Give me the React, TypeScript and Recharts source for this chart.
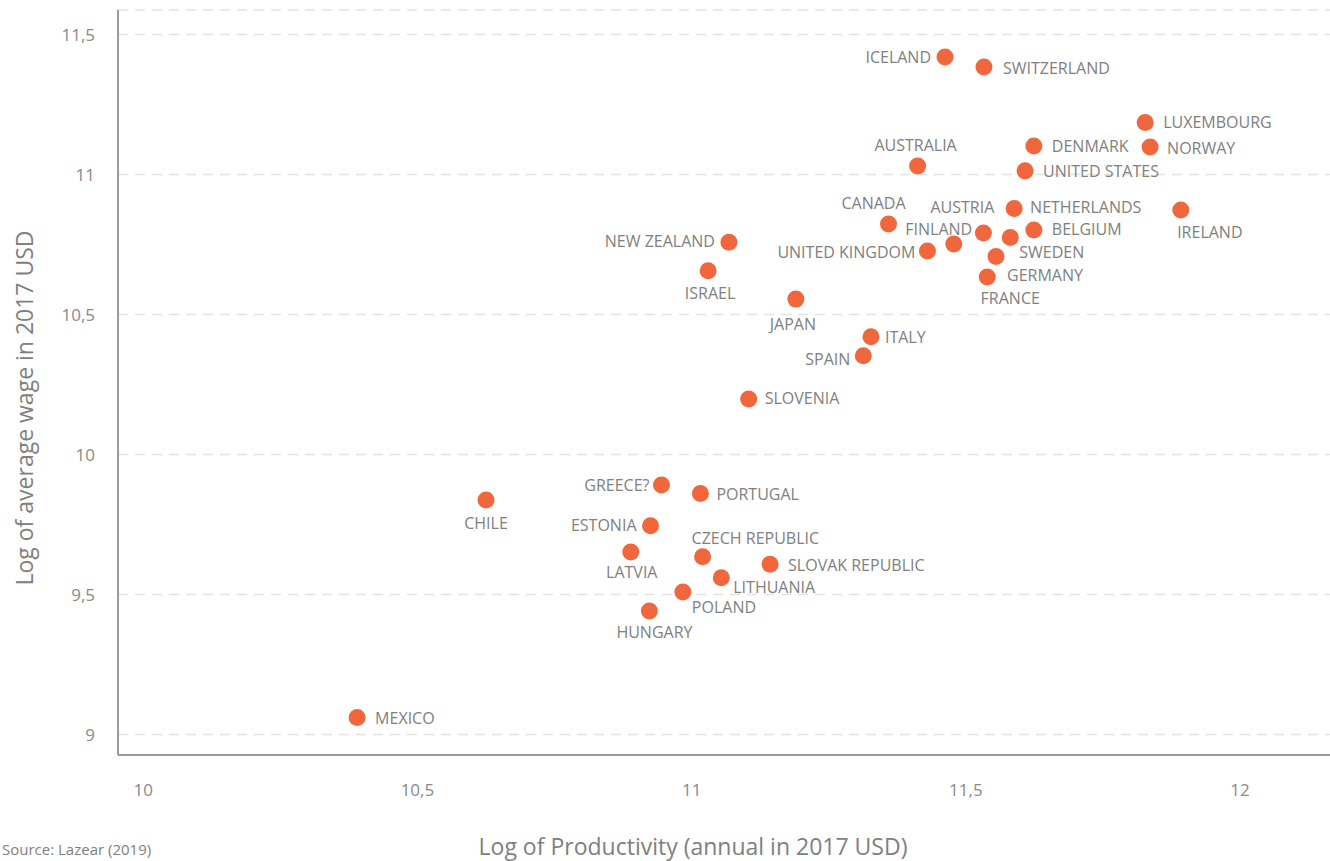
import React from "react";
import {
  ScatterChart,
  Scatter,
  XAxis,
  YAxis,
  CartesianGrid,
  Label,
} from "recharts";

// OECD countries: log productivity vs log average wage (2017 USD)
const countries = [
  "ICELAND", "SWITZERLAND", "LUXEMBOURG", "NORWAY", "DENMARK", "UNITED STATES",
  "AUSTRALIA", "CANADA", "AUSTRIA", "FINLAND", "UNITED KINGDOM", "NETHERLANDS",
  "BELGIUM", "SWEDEN", "GERMANY", "FRANCE", "IRELAND", "NEW ZEALAND", "ISRAEL",
  "JAPAN", "ITALY", "SPAIN", "SLOVENIA", "GREECE?", "PORTUGAL", "CHILE",
  "ESTONIA", "LATVIA", "CZECH REPUBLIC", "SLOVAK REPUBLIC", "LITHUANIA",
  "POLAND", "HUNGARY", "MEXICO",
];

const productivity = [
  11.462, 11.533, 11.827, 11.836, 11.624, 11.608,
  11.412, 11.359, 11.532, 11.478, 11.43, 11.588,
  11.624, 11.581, 11.555, 11.539, 11.892, 11.068, 11.03,
  11.19, 11.327, 11.313, 11.104, 10.945, 11.016, 10.625,
  10.925, 10.889, 11.02, 11.143, 11.054,
  10.984, 10.923, 10.39,
];

const wage = [
  11.42, 11.384, 11.186, 11.098, 11.102, 11.013,
  11.03, 10.823, 10.791, 10.752, 10.727, 10.879,
  10.802, 10.775, 10.707, 10.634, 10.873, 10.758, 10.656,
  10.555, 10.421, 10.353, 10.198, 9.891, 9.861, 9.838,
  9.746, 9.652, 9.635, 9.608, 9.56,
  9.509, 9.441, 9.061,
];

const xTicks = [10, 10.5, 11, 11.5, 12];
const yTicks = [9, 9.5, 10, 10.5, 11, 11.5];

// where each country name sits relative to its dot: dx, dy, anchor
const labelPos: Record<string, [number, number, string]> = {
  "ICELAND": [-14, 0, "end"],
  "SWITZERLAND": [19, 1, "start"],
  "LUXEMBOURG": [18, 0, "start"],
  "NORWAY": [17, 1, "start"],
  "DENMARK": [18, 0, "start"],
  "UNITED STATES": [18, 0, "start"],
  "AUSTRALIA": [-2, -21, "middle"],
  "CANADA": [-15, -21, "middle"],
  "AUSTRIA": [-21, -26, "middle"],
  "FINLAND": [-15, -15, "middle"],
  "UNITED KINGDOM": [-12, 1, "end"],
  "NETHERLANDS": [16, -1, "start"],
  "BELGIUM": [18, -1, "start"],
  "SWEDEN": [9, 14, "start"],
  "GERMANY": [11, 18, "start"],
  "FRANCE": [23, 21, "middle"],
  "IRELAND": [29, 22, "middle"],
  "NEW ZEALAND": [-14, -1, "end"],
  "ISRAEL": [2, 22, "middle"],
  "JAPAN": [-3, 25, "middle"],
  "ITALY": [14, 0, "start"],
  "SPAIN": [-13, 3, "end"],
  "SLOVENIA": [16, -1, "start"],
  "GREECE?": [-12, 0, "end"],
  "PORTUGAL": [16, 1, "start"],
  "CHILE": [0, 23, "middle"],
  "ESTONIA": [-14, -1, "end"],
  "LATVIA": [1, 20, "middle"],
  "CZECH REPUBLIC": [-11, -19, "start"],
  "SLOVAK REPUBLIC": [18, 1, "start"],
  "LITHUANIA": [12, 9, "start"],
  "POLAND": [9, 15, "start"],
  "HUNGARY": [5, 21, "middle"],
  "MEXICO": [18, 1, "start"],
};

const data = countries.map((name, i) => ({
  name,
  x: productivity[i],
  y: wage[i],
}));

const FONT = "'Open Sans', sans-serif";
const DOT = "#f0673d";
const TEXT = "#808080";

const fmt = (v: number) => String(v).replace(".", ",");

const CountryDot = (props: any) => {
  const { cx, cy, payload } = props;
  const [dx, dy, anchor] = labelPos[payload.name] || [14, 0, "start"];
  return (
    <g>
      <circle cx={cx} cy={cy} r={8.5} fill={DOT} />
      <text
        x={cx + dx}
        y={cy + dy}
        textAnchor={anchor as any}
        dominantBaseline="central"
        fontFamily={FONT}
        fontSize={16}
        fill={TEXT}
      >
        {payload.name}
      </text>
    </g>
  );
};

export default function App() {
  return (
    <div
      style={{
        position: "absolute",
        left: 0,
        top: 0,
        width: 1330,
        height: 861,
        overflow: "hidden",
        background: "#fff",
      }}
    >
      <ScatterChart
        width={1330}
        height={861}
        margin={{ top: 10, right: 0, bottom: 0, left: 0 }}
      >
        <CartesianGrid
          vertical={false}
          stroke="#e3e3e3"
          strokeWidth={1.5}
          strokeDasharray="10 7"
        />
        <XAxis
          type="number"
          dataKey="x"
          domain={[9.954, 12.164]}
          ticks={xTicks}
          allowDataOverflow
          height={106}
          tickFormatter={fmt}
          tickLine={false}
          tickSize={0}
          tickMargin={29}
          axisLine={{ stroke: "#9b9b9b", strokeWidth: 2 }}
          tick={{ fill: "#8a8a8a", fontSize: 17, fontFamily: FONT }}
        >
          <Label
            content={() => (
              <text
                x={693}
                y={846}
                textAnchor="middle"
                dominantBaseline="central"
                fontFamily={FONT}
                fontSize={23}
                fill={TEXT}
              >
                Log of Productivity (annual in 2017 USD)
              </text>
            )}
          />
        </XAxis>
        <YAxis
          type="number"
          dataKey="y"
          domain={[8.927, 11.5875]}
          ticks={yTicks}
          allowDataOverflow
          width={118}
          tickFormatter={fmt}
          tickLine={false}
          tickSize={0}
          tickMargin={23}
          axisLine={{ stroke: "#9b9b9b", strokeWidth: 2 }}
          tick={{ fill: "#8a8a8a", fontSize: 17, fontFamily: FONT }}
        >
          <Label
            content={() => (
              <text
                x={24}
                y={408}
                transform="rotate(-90 24 408)"
                textAnchor="middle"
                dominantBaseline="central"
                fontFamily={FONT}
                fontSize={23}
                fill={TEXT}
              >
                Log of average wage in 2017 USD
              </text>
            )}
          />
        </YAxis>
        <Scatter
          data={data}
          shape={CountryDot}
          isAnimationActive={false}
        />
      </ScatterChart>
      <div
        style={{
          position: "absolute",
          left: 2,
          top: 839,
          fontFamily: FONT,
          fontSize: 15,
          color: TEXT,
          whiteSpace: "nowrap",
        }}
      >
        Source: Lazear (2019)
      </div>
    </div>
  );
}
